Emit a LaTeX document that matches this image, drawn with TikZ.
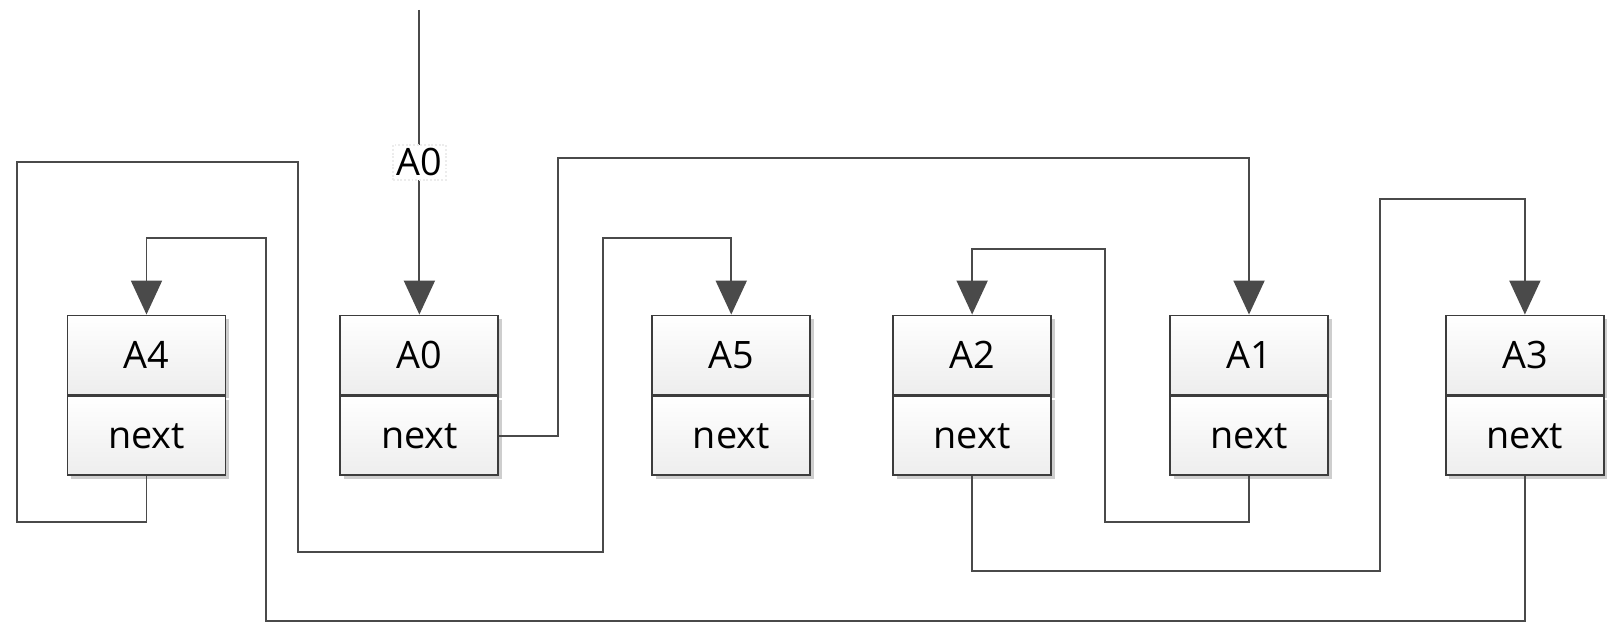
\documentclass[tikz,border=0pt]{standalone}
\usepackage{fontspec}
\setmainfont{Open Sans}
\usepackage{tikz}
\usetikzlibrary{
  positioning,
  arrows.meta,
  shadows
}
\definecolor{rim}{HTML}{3C3C3C}
\definecolor{wire}{HTML}{4A4A4A}
\tikzset{
  >={Triangle[width=0.62cm, length=0.68cm]},
  cell/.style={draw=rim, line width=1.1pt, rectangle,
    minimum width=3.16cm, minimum height=1.58cm,
    top color=white, bottom color=gray!14,
    drop shadow={shadow xshift=0.07cm, shadow yshift=-0.07cm,
      fill=gray!70, opacity=0.55},
    font=\fontsize{21.5}{26}\selectfont},
  link/.style={->, draw=wire, line width=1.1pt},
  tag/.style={fill=white, draw=gray!15, densely dotted, inner sep=2pt,
    font=\fontsize{21.5}{26}\selectfont}
}

\begin{document}
\begin{tikzpicture}[x=0.02cm, y=-0.02cm]
    \useasboundingbox (0,0) rectangle (1616,625);

    \node[cell] at (146.5,355) (a4) {A4};
    \node[cell, right=2.26cm of a4] (a0) {A0};
    \node[cell, right=3.04cm of a0] (a5) {A5};
    \node[cell, right=1.62cm of a5] (a2) {A2};
    \node[cell, right=2.34cm of a2] (a1) {A1};
    \node[cell, right=2.32cm of a1] (a3) {A3};

    \node[cell, below=0pt of a4] (a4n) {next};
    \node[cell, below=0pt of a0] (a0n) {next};
    \node[cell, below=0pt of a5] (a5n) {next};
    \node[cell, below=0pt of a2] (a2n) {next};
    \node[cell, below=0pt of a1] (a1n) {next};
    \node[cell, below=0pt of a3] (a3n) {next};

    \coordinate (head) at (a0.north |- 0,10);

    \draw[link] (head) -- node[tag] {A0} (a0.north);

    \draw[link] (a0n.east) -| (558,158) -| (a1.north);
    \draw[link] (a1n.south) |- (1105,522) |- (a2.north |- 0,249) -- (a2.north);
    \draw[link] (a2n.south) |- (1380,571) |- (a3.north |- 0,199) -- (a3.north);
    \draw[link] (a3n.south) |- (266,621) |- (a4.north |- 0,238) -- (a4.north);
    \draw[link] (a4n.south) |- (17,522) |- (298,162) |- (603,552)
      |- (a5.north |- 0,238) -- (a5.north);
  \end{tikzpicture}
\end{document}
